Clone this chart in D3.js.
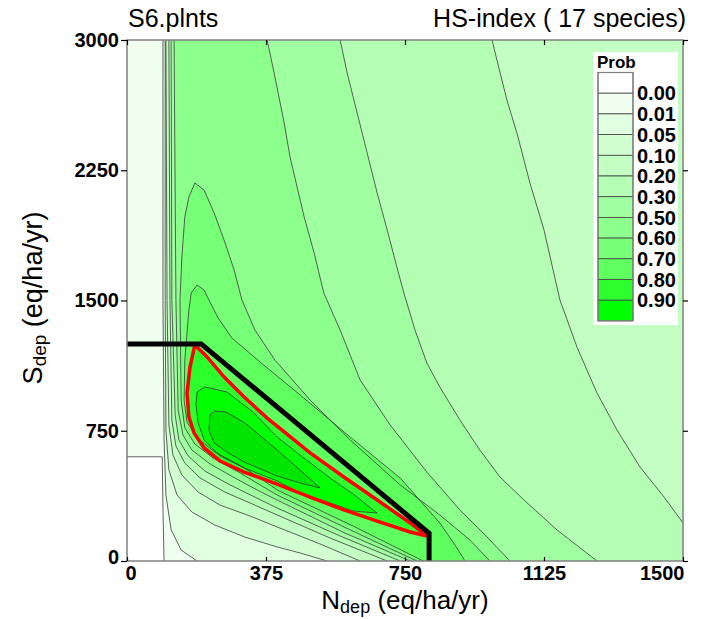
<!DOCTYPE html>
<html>
<head>
<meta charset="utf-8">
<script src="https://cdn.jsdelivr.net/npm/d3@7/dist/d3.min.js"></script>
<style>
  body { margin: 0; background: #fff; }
  text { font-family: "Liberation Sans", Arial, sans-serif; }
</style>
</head>
<body>
<div id="chart"></div>
<script>
// ======= data (N_dep, S_dep in eq/ha/yr) =======

var levels = [0.00, 0.01, 0.05, 0.10, 0.20, 0.30, 0.50, 0.60, 0.70, 0.80, 0.90];
var legendColors = ["#ffffff", "#f0fff0", "#e1ffe1", "#d2ffd2", "#c3ffc3", "#b4ffb4",
                    "#a0ffa0", "#8cff8c", "#78ff78", "#5fff5f", "#2dff2d", "#00ff00"];
var xTicks = [0, 375, 750, 1125, 1500];
var yTicks = [0, 750, 1500, 2250, 3000];

// contour lines; "lo" = left/lower side, "hi" = right/upper side
var c000 = [[0,600],[95,600],[97,300],[100,0]];
var lo001 = [[97,3000],[97,1500],[100,700],[105,380],[119,180],[146,63],[189,0]];
var lo005 = [[103,3000],[103,1500],[105,755],[113,525],[135,380],[175,282],[237,207],[318,138],[405,81],[467,46],[540,0]];
var lo010 = [[105,3000],[108,1500],[113,783],[124,610],[148,495],[192,397],[251,322],[332,259],[405,196],[521,98],[629,0]];
var lo020 = [[113,3000],[116,1500],[121,812],[132,662],[156,564],[197,478],[264,397],[332,334],[405,265],[548,132],[702,0]];
var hi020 = [[985,3000],[998,2885],[1025,2654],[1052,2464],[1087,2177],[1125,1906],[1168,1503],[1214,1232],[1268,967],[1322,754],[1384,541],[1449,368],[1500,219]];
var lo030 = [[119,3000],[121,1500],[130,841],[140,697],[165,605],[210,518],[278,438],[345,368],[405,305],[575,144],[737,0]];
var hi030 = [[575,3000],[594,2810],[621,2580],[648,2349],[675,2119],[702,1906],[728,1693],[747,1543],[777,1330],[809,1140],[844,1002],[898,812],[952,639],[1006,484],[1071,351],[1160,179],[1268,0]];
var lo050 = [[127,3000],[132,1500],[138,869],[151,725],[175,639],[224,559],[291,478],[351,409],[405,351],[588,161],[764,0]];
var hi050 = [[378,3000],[397,2810],[424,2522],[440,2326],[459,2153],[478,1981],[505,1773],[531,1543],[575,1330],[629,1042],[710,783],[809,512],[898,294],[966,150],[1033,0]];
var lo060 = [[183,2177],[167,2096],[156,1981],[148,1750],[143,1503],[146,927],[156,766],[183,674],[232,593],[305,507],[359,438],[405,380],[602,179],[782,0]];
var hi060 = [[183,2177],[208,2136],[235,2004],[262,1848],[289,1676],[310,1503],[345,1330],[399,1157],[494,927],[602,697],[737,438],[844,265],[925,121],[979,0]];
var lo070 = [[189,1589],[173,1543],[167,1445],[156,1157],[154,927],[162,800],[189,708],[237,628],[313,541],[367,466],[405,409],[615,196],[799,0]];
var hi070 = [[189,1589],[208,1560],[221,1503],[246,1399],[283,1284],[359,1146],[467,956],[602,714],[737,478],[844,219],[885,92],[912,0]];
var loop080 = [[183,1244],[170,1117],[162,967],[167,829],[181,737],[208,651],[251,576],[316,512],[405,443],[494,368],[585,294],[675,230],[764,167],[809,144],
               [764,219],[675,351],[585,484],[494,622],[405,777],[378,823],[316,944],[262,1059],[216,1175],[183,1244]];
var loop090 = [[189,973],[210,1002],[270,973],[340,858],[405,714],[467,610],[548,478],[610,386],[675,276],
               [610,288],[548,334],[467,392],[405,461],[316,536],[251,605],[208,697],[192,795],[186,899],[189,973]];
var loop095 = [[224,841],[235,864],[267,858],[318,795],[405,639],[467,524],[521,420],
               [467,449],[405,489],[316,570],[273,622],[235,679],[221,754],[224,841]];

// critical-load function (thick black)
var clfN = [0, 200, 815, 815];
var clfS = [1250, 1250, 160, 0];

// ======= layout =======

var width = 710;
var height = 619;
var plot = {left: 127, top: 40, right: 683, bottom: 561};

var svg = d3.select("#chart")
  .append("svg")
    .attr("width", width)
    .attr("height", height);

var x = d3.scaleLinear().domain([0, 1500]).range([plot.left, plot.right]);
var y = d3.scaleLinear().domain([0, 3000]).range([plot.bottom, plot.top]);

var line = d3.line()
    .x(function(d){ return x(d[0]); })
    .y(function(d){ return y(d[1]); });

svg.append("clipPath").attr("id", "plotClip")
  .append("rect")
    .attr("x", plot.left).attr("y", plot.top)
    .attr("width", plot.right - plot.left).attr("height", plot.bottom - plot.top);

var g = svg.append("g").attr("clip-path", "url(#plotClip)");

// ======= filled regions (painted from low to high level) =======

function rev(a){ return a.slice().reverse(); }
var rightSide = [[1500,0],[1500,3000]];

var fills = [
    {poly: [[0,0],[1500,0],[1500,3000],[0,3000]], fill: legendColors[0]},
    {poly: c000.concat(rightSide, [[0,3000]]), fill: legendColors[1]},
    {poly: lo001.concat(rightSide), fill: legendColors[2]},
    {poly: lo005.concat(rightSide), fill: legendColors[3]},
    {poly: lo010.concat(rightSide), fill: legendColors[4]},
    {poly: lo020.concat([[1500,0]], rev(hi020)), fill: legendColors[5]},
    {poly: lo030.concat(rev(hi030)), fill: legendColors[6]},
    {poly: lo050.concat(rev(hi050)), fill: legendColors[7]},
    {poly: lo060.concat(rev(hi060)), fill: legendColors[8]},
    {poly: lo070.concat(rev(hi070)), fill: legendColors[9]},
    {poly: loop080, fill: legendColors[10]},
    {poly: loop090, fill: legendColors[11]},
    {poly: loop095, fill: "#00e600"}
];

g.selectAll(".band")
    .data(fills)
  .enter().append("path")
    .attr("class", "band")
    .attr("d", function(d){ return line(d.poly) + "Z"; })
    .style("fill", function(d){ return d.fill; })
    .style("stroke", "none");

// ======= contour lines =======

var lines = [c000, lo001, lo005, lo010, lo020, hi020, lo030, hi030, lo050, hi050,
             lo060, hi060, lo070, hi070, loop090, loop095];

g.selectAll(".contour")
    .data(lines)
  .enter().append("path")
    .attr("class", "contour")
    .attr("d", line)
    .style("fill", "none")
    .style("stroke", "#3a3a3a")
    .style("stroke-width", 0.8);

g.append("path")
    .attr("d", line(loop080))
    .style("fill", "none")
    .style("stroke", "#ff0000")
    .style("stroke-width", 3.5);

g.append("path")
    .attr("d", line(clfN.map(function(n, i){ return [n, clfS[i]]; })))
    .style("fill", "none")
    .style("stroke", "#000")
    .style("stroke-width", 5);

// ======= frame & axes =======

svg.append("rect")
    .attr("x", plot.left).attr("y", plot.top)
    .attr("width", plot.right - plot.left).attr("height", plot.bottom - plot.top)
    .style("fill", "none")
    .style("stroke", "#808080")
    .style("stroke-width", 1.5);

var axisLeft = svg.append("g")
    .attr("transform", "translate(" + plot.left + ",0)")
    .call(d3.axisLeft(y).tickValues(yTicks).tickSize(6).tickFormat(d3.format("d")));
var axisBottom = svg.append("g")
    .attr("transform", "translate(0," + plot.bottom + ")")
    .call(d3.axisBottom(x).tickValues(xTicks).tickSize(-4).tickPadding(5).tickFormat(d3.format("d")));
svg.append("g")
    .attr("transform", "translate(" + plot.right + ",0)")
    .call(d3.axisRight(y).tickValues(yTicks).tickSize(5).tickFormat(""));
svg.append("g")
    .attr("transform", "translate(0," + plot.top + ")")
    .call(d3.axisBottom(x).tickValues(xTicks).tickSize(5).tickFormat(""));

svg.selectAll(".domain").remove();
svg.selectAll(".tick line").style("stroke", "#000").style("stroke-width", 1.2);
svg.selectAll(".tick text")
    .style("font-size", "20px")
    .style("font-weight", "bold")
    .style("fill", "#000");
axisLeft.selectAll(".tick text").attr("x", -8);
axisLeft.selectAll(".tick text").filter(function(d){ return d === 0; }).attr("dy", "0.1em");
axisBottom.selectAll(".tick text").filter(function(d){ return d === 0; })
    .attr("text-anchor", "start").attr("x", -2);
axisBottom.selectAll(".tick text").filter(function(d){ return d === 1500; })
    .attr("text-anchor", "end").attr("x", 1);

// ======= titles =======

svg.append("text")
    .attr("x", 128).attr("y", 27)
    .style("font-size", "25px")
    .text("S6.plnts");

svg.append("text")
    .attr("x", 686).attr("y", 27)
    .attr("text-anchor", "end")
    .style("font-size", "25px")
    .text("HS-index ( 17 species)");

var xTitle = svg.append("text")
    .attr("x", 405).attr("y", 609)
    .attr("text-anchor", "middle")
    .style("font-size", "26px");
xTitle.append("tspan").text("N");
xTitle.append("tspan").attr("dy", 4).style("font-size", "18px").text("dep");
xTitle.append("tspan").attr("dy", -4).text(" (eq/ha/yr)");

var yTitle = svg.append("text")
    .attr("transform", "translate(42,298) rotate(-90)")
    .attr("text-anchor", "middle")
    .style("font-size", "27px");
yTitle.append("tspan").text("S");
yTitle.append("tspan").attr("dy", 4).style("font-size", "19px").text("dep");
yTitle.append("tspan").attr("dy", -4).text(" (eq/ha/yr)");

// ======= legend =======

var legend = svg.append("g").attr("class", "legend");
var boxH = 20.7;

legend.append("rect")
    .attr("x", 593).attr("y", 52)
    .attr("width", 85).attr("height", 273)
    .style("fill", "#fff");

legend.append("text")
    .attr("x", 597).attr("y", 68)
    .style("font-size", "17px")
    .style("font-weight", "bold")
    .text("Prob");

legend.selectAll(".lbox")
    .data(legendColors)
  .enter().append("rect")
    .attr("class", "lbox")
    .attr("x", 598)
    .attr("y", function(d,i){ return 72.5 + i*boxH; })
    .attr("width", 35)
    .attr("height", boxH)
    .style("fill", function(d){ return d; })
    .style("stroke", "#444")
    .style("stroke-width", 0.8);

legend.append("rect")
    .attr("x", 598).attr("y", 72.5)
    .attr("width", 35).attr("height", boxH * legendColors.length)
    .style("fill", "none")
    .style("stroke", "#808080")
    .style("stroke-width", 1.2);

legend.selectAll(".llab")
    .data(levels)
  .enter().append("text")
    .attr("class", "llab")
    .attr("x", 637)
    .attr("y", function(d,i){ return 72.5 + (i+1)*boxH; })
    .attr("dy", "0.36em")
    .style("font-size", "20px")
    .style("font-weight", "bold")
    .text(function(d){ return d3.format(".2f")(d); });
</script>
</body>
</html>
